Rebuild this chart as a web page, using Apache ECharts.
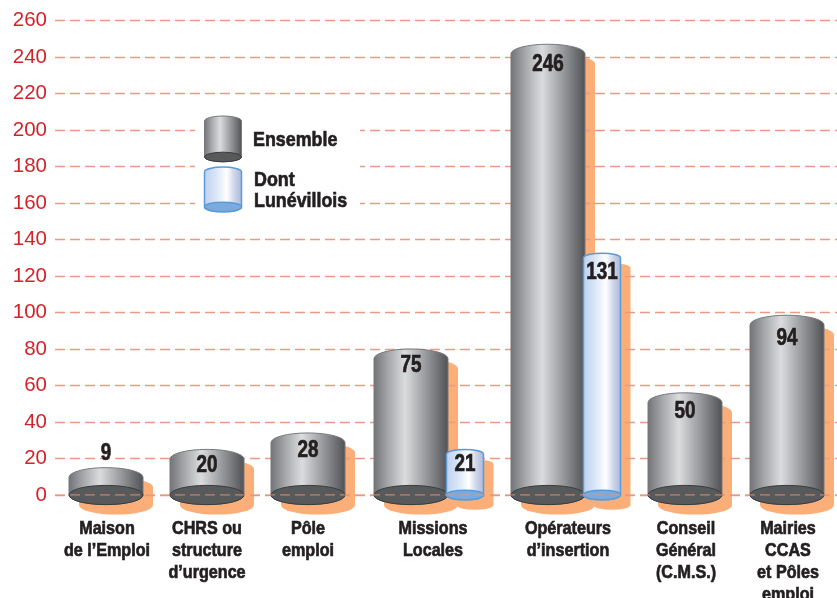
<!DOCTYPE html>
<html>
<head>
<meta charset="utf-8">
<title>Ensemble / Dont Lunévillois</title>
<style>
  html, body { margin: 0; padding: 0; background: #fff; }
  #chart { width: 837px; height: 598px; }
</style>
<script src="https://cdn.jsdelivr.net/npm/echarts@6/dist/echarts.min.js"></script>
</head>
<body>
<div id="chart"></div>
<script>
var categories = [
  "Maison\nde l’Emploi",
  "CHRS ou\nstructure\nd’urgence",
  "Pôle\nemploi",
  "Missions\nLocales",
  "Opérateurs\nd’insertion",
  "Conseil\nGénéral\n(C.M.S.)",
  "Mairies\nCCAS\net Pôles\nemploi",
];
// printed figures
var ensembleValues = [9, 20, 28, 75, 246, 50, 94];
var dontValues = [null, null, null, 21, 131, null, null];
// height of each drawn cylinder read on the axis, they overshoot the printed figure
var ensembleTops = [15, 25, 34, 80, 247, 56, 98.5];
var dontTops = [null, null, null, 25, 132.5, null, null];
var yTicks = 20;
var yMax = 260;

// layout, x axis is in hundreds of pixels from the left of the grid
var labelCenters = [0.52, 1.52, 2.53, 3.78, 5.13, 6.31, 7.33];
var ensembleCenters = [0.51, 1.52, 2.53, 3.56, 4.93, 6.3, 7.32];
var dontCenters = [null, null, null, 4.1, 5.47, null, null];
// px from the cylinder top down to its figure
var ensembleGaps = [-14, 16, 18, 17, 20, 19, 23];
var dontGaps = [null, null, null, 15, 19, null, null];
var ensembleWidth = 0.74;
var dontWidth = 0.37;
var flatness = 0.26;
var shadowOffset = 10;

var inkColor = "#231f20";
var boldFont = '"Liberation Sans", sans-serif';

var greyFill = new echarts.graphic.LinearGradient(0, 0, 1, 0, [
  { offset: 0, color: "#707275" },
  { offset: 0.2, color: "#a6a8ab" },
  { offset: 0.42, color: "#dadcde" },
  { offset: 0.7, color: "#97999c" },
  { offset: 1, color: "#4f5154" },
]);
var blueFill = new echarts.graphic.LinearGradient(0, 0, 1, 0, [
  { offset: 0, color: "#bcd0ee" },
  { offset: 0.3, color: "#d8e4f7" },
  { offset: 0.6, color: "#ffffff" },
  { offset: 0.78, color: "#d0d8ec" },
  { offset: 1, color: "#a9b5d8" },
]);
var greyStyle = { body: greyFill, edge: "#77797c", base: "#58595b", baseEdge: "#3a3b3d", width: 1 };
var blueStyle = { body: blueFill, edge: "#5b9bd5", base: "#7aaade", baseEdge: "#5b9bd5", width: 1.5 };

function bodyPath(cx, top, bottom, rx, ry) {
  var s = top + ry;
  return "M" + (cx - rx) + " " + s +
    "A" + rx + " " + ry + " 0 0 1 " + (cx + rx) + " " + s +
    "L" + (cx + rx) + " " + bottom +
    "A" + rx + " " + ry + " 0 0 1 " + (cx - rx) + " " + bottom + "Z";
}

function basePath(cx, cy, rx, ry) {
  return "M" + (cx - rx) + " " + cy +
    "A" + rx + " " + ry + " 0 0 1 " + (cx + rx) + " " + cy +
    "A" + rx + " " + ry + " 0 0 1 " + (cx - rx) + " " + cy + "Z";
}

function cylinderParts(cx, top, bottom, rx, style) {
  var ry = rx * flatness;
  return [
    {
      type: "path",
      shape: { pathData: bodyPath(cx, top, bottom, rx, ry) },
      style: { fill: style.body, stroke: style.edge, lineWidth: style.width },
    },
    {
      type: "path",
      shape: { pathData: basePath(cx, bottom, rx, ry) },
      style: { fill: style.base, stroke: style.baseEdge, lineWidth: style.width },
    },
  ];
}

// no narrow bold font installed, so the bold text is squeezed horizontally
function squeezedText(text, x, y, size, squeeze, align, valign, lineHeight) {
  return {
    type: "text",
    x: x,
    y: y,
    scaleX: squeeze,
    style: {
      text: text,
      x: 0,
      y: 0,
      align: align,
      verticalAlign: valign,
      font: "bold " + size + "px " + boldFont,
      lineHeight: lineHeight,
      fill: inkColor,
      stroke: inkColor,
      lineWidth: 0.7,
    },
  };
}

function shadowItem(barWidth) {
  return function (params, api) {
    var rx = api.size([barWidth, 0])[0] / 2;
    var cx = api.coord([api.value(0), 0])[0] + shadowOffset;
    var top = api.coord([0, api.value(1)])[1] + shadowOffset;
    var bottom = api.coord([0, 0])[1] + shadowOffset;
    return {
      type: "path",
      shape: { pathData: bodyPath(cx, top, bottom, rx, rx * flatness) },
      style: { fill: "#fbae78" },
    };
  };
}

function cylinderItem(barWidth, style) {
  return function (params, api) {
    var rx = api.size([barWidth, 0])[0] / 2;
    var cx = api.coord([api.value(0), 0])[0];
    var top = api.coord([0, api.value(1)])[1];
    var bottom = api.coord([0, 0])[1];
    var children = cylinderParts(cx, top, bottom, rx, style);
    children.push(
      squeezedText(String(api.value(2)), cx, top + api.value(3), 23, 0.82, "center", "middle")
    );
    return { type: "group", children: children };
  };
}

function categoryItem(params, api) {
  var pos = api.coord([api.value(0), 0]);
  return squeezedText(categories[params.dataIndex], pos[0], pos[1] + 23, 19, 0.85, "center", "top", 22);
}

function rows(centers, tops, values, gaps) {
  var out = [];
  for (var i = 0; i < centers.length; i++) {
    if (values[i] !== null) {
      out.push([centers[i], tops[i], values[i], gaps[i]]);
    }
  }
  return out;
}

var ensembleData = rows(ensembleCenters, ensembleTops, ensembleValues, ensembleGaps);
var dontData = rows(dontCenters, dontTops, dontValues, dontGaps);
var categoryData = labelCenters.map(function (c) {
  return [c, 0];
});

var dash = [10, 5];

// hand placed legend, sits on a white patch that cuts the grid lines
function legendItem() {
  var parts = [
    {
      type: "rect",
      shape: { x: 195, y: 112, width: 165, height: 104 },
      style: { fill: "#ffffff" },
    },
  ];
  parts = parts.concat(cylinderParts(223, 116, 157, 18.5, greyStyle));
  parts = parts.concat(cylinderParts(223, 167, 207, 18.5, blueStyle));
  parts.push(squeezedText("Ensemble", 253, 140, 21, 0.85, "left", "middle"));
  parts.push(squeezedText("Dont", 254, 180, 21, 0.85, "left", "middle"));
  parts.push(squeezedText("Lunévillois", 254, 201, 21, 0.85, "left", "middle"));
  return { type: "group", children: parts };
}

var chart = echarts.init(document.getElementById("chart"), null, { renderer: "canvas" });

chart.setOption({
  animation: false,
  grid: { left: 55, right: 0, top: 20.5, bottom: 103, outerBoundsMode: "none" },
  xAxis: {
    type: "value",
    min: 0,
    max: 7.82,
    splitLine: { show: false },
    axisLine: { show: false },
    axisTick: { show: false },
    axisLabel: { show: false },
  },
  yAxis: {
    type: "value",
    min: 0,
    max: yMax,
    interval: yTicks,
    axisLine: { show: false },
    axisTick: { show: false },
    axisLabel: {
      margin: 8,
      padding: [2, 0, 0, 0],
      color: "#d2232a",
      fontFamily: '"Liberation Sans", sans-serif',
      fontSize: 20.5,
    },
    splitLine: {
      lineStyle: { color: "#ec9a82", width: 1.4, type: dash },
    },
  },
  series: [
    {
      type: "custom",
      z: -1,
      silent: true,
      renderItem: shadowItem(ensembleWidth),
      encode: { x: 0, y: 1 },
      data: ensembleData,
    },
    {
      type: "custom",
      z: -1,
      silent: true,
      renderItem: shadowItem(dontWidth),
      encode: { x: 0, y: 1 },
      data: dontData,
    },
    {
      type: "custom",
      z: 2,
      silent: true,
      renderItem: legendItem,
      data: [[0, 0]],
    },
    {
      type: "custom",
      z: 2,
      silent: true,
      renderItem: categoryItem,
      encode: { x: 0, y: 1 },
      data: categoryData,
    },
    {
      name: "Ensemble",
      type: "custom",
      z: 3,
      renderItem: cylinderItem(ensembleWidth, greyStyle),
      encode: { x: 0, y: 1 },
      data: ensembleData,
    },
    {
      name: "Dont Lunévillois",
      type: "custom",
      z: 4,
      renderItem: cylinderItem(dontWidth, blueStyle),
      encode: { x: 0, y: 1 },
      data: dontData,
    },
    {
      // the zero line runs over the cylinder bases
      type: "line",
      z: 5,
      silent: true,
      symbol: "none",
      lineStyle: { color: "rgba(228,150,122,0.7)", width: 1.4, type: dash },
      data: [[0, 0], [7.82, 0]],
    },
  ],
});
</script>
</body>
</html>
